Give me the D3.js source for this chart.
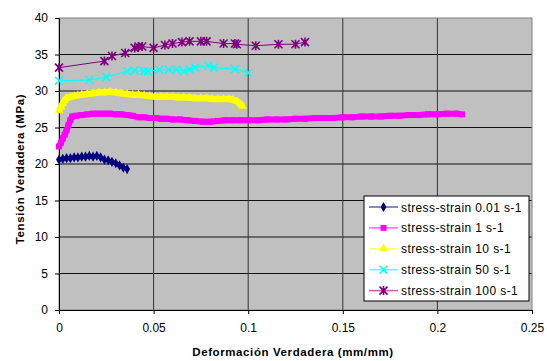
<!DOCTYPE html>
<html>
<head>
<meta charset="utf-8">
<script src="https://cdn.jsdelivr.net/npm/d3@7"></script>
<style>
  body { margin: 0; background: #fff; }
  svg { font-family: "Liberation Sans", Arial, sans-serif; }
</style>
</head>
<body>
<div id="chart"></div>
<script>
// data
const xTicks = [0, 0.05, 0.1, 0.15, 0.2, 0.25];
const yTicks = [0, 5, 10, 15, 20, 25, 30, 35, 40];

const strain001 = [0, 0.002, 0.004, 0.006, 0.008, 0.010, 0.012, 0.014, 0.016, 0.018, 0.020, 0.022, 0.024, 0.026, 0.028, 0.030, 0.032, 0.034, 0.036];
const stress001 = [20.6, 20.7, 20.8, 20.8, 20.9, 20.9, 21.0, 21.0, 21.1, 21.0, 21.1, 20.9, 20.6, 20.5, 20.3, 20.1, 19.8, 19.5, 19.3];

const strain1 = [0, 0.001, 0.002, 0.003, 0.004, 0.005, 0.006, 0.007, 0.009, 0.012, 0.015, 0.018, 0.021, 0.024, 0.027, 0.030, 0.033, 0.036, 0.039, 0.042, 0.045, 0.048, 0.051, 0.054, 0.057, 0.060, 0.064, 0.068, 0.072, 0.076, 0.080, 0.084, 0.088, 0.092, 0.096, 0.100, 0.105, 0.110, 0.115, 0.120, 0.125, 0.130, 0.135, 0.140, 0.145, 0.150, 0.155, 0.160, 0.165, 0.170, 0.175, 0.180, 0.185, 0.190, 0.195, 0.200, 0.205, 0.210, 0.213];
const stress1 = [22.4, 22.9, 23.5, 24.0, 24.6, 25.3, 26.0, 26.5, 26.6, 26.7, 26.8, 26.9, 26.9, 26.9, 26.9, 26.8, 26.8, 26.7, 26.6, 26.4, 26.4, 26.3, 26.3, 26.2, 26.2, 26.1, 26.1, 26.0, 25.9, 25.8, 25.8, 25.9, 26.0, 26.0, 26.0, 26.0, 26.0, 26.1, 26.1, 26.1, 26.2, 26.2, 26.3, 26.3, 26.3, 26.4, 26.4, 26.5, 26.5, 26.5, 26.6, 26.6, 26.7, 26.7, 26.8, 26.8, 26.9, 26.9, 26.8];

const strain10 = [0, 0.001, 0.002, 0.003, 0.004, 0.006, 0.008, 0.010, 0.012, 0.015, 0.018, 0.021, 0.024, 0.027, 0.030, 0.033, 0.036, 0.039, 0.042, 0.045, 0.048, 0.051, 0.054, 0.057, 0.060, 0.063, 0.066, 0.069, 0.072, 0.075, 0.078, 0.081, 0.084, 0.087, 0.090, 0.092, 0.094, 0.096, 0.097];
const stress10 = [27.3, 27.8, 28.3, 28.7, 29.0, 29.2, 29.3, 29.4, 29.5, 29.6, 29.7, 29.8, 29.8, 29.9, 29.8, 29.7, 29.6, 29.5, 29.5, 29.4, 29.3, 29.2, 29.2, 29.2, 29.2, 29.1, 29.1, 29.1, 29.0, 29.0, 29.0, 28.9, 28.9, 28.9, 28.9, 28.8, 28.6, 28.2, 27.9];

const strain50 = [0, 0.016, 0.025, 0.036, 0.040, 0.045, 0.047, 0.053, 0.058, 0.062, 0.066, 0.069, 0.072, 0.079, 0.082, 0.093, 0.100];
const stress50 = [31.4, 31.5, 31.9, 32.7, 32.8, 32.7, 32.7, 32.9, 32.9, 32.9, 32.7, 32.9, 33.2, 33.5, 33.2, 33.0, 32.5];

const strain100 = [0, 0.024, 0.028, 0.035, 0.040, 0.042, 0.044, 0.050, 0.056, 0.060, 0.065, 0.069, 0.075, 0.078, 0.087, 0.093, 0.094, 0.104, 0.116, 0.125, 0.130];
const stress100 = [33.2, 34.1, 34.8, 35.2, 35.9, 36.1, 36.1, 35.9, 36.3, 36.5, 36.7, 36.8, 36.8, 36.8, 36.5, 36.5, 36.4, 36.2, 36.4, 36.4, 36.7];

const names = ['stress-strain 0.01 s-1', 'stress-strain 1 s-1', 'stress-strain 10 s-1', 'stress-strain 50 s-1', 'stress-strain 100 s-1'];

const series = [
  { name: names[0], xs: strain001, ys: stress001, color: '#000080', marker: 'diamond', band: 4 },
  { name: names[1], xs: strain1, ys: stress1, color: '#ff00ff', marker: 'square', band: 6 },
  { name: names[2], xs: strain10, ys: stress10, color: '#ffff00', marker: 'triangle', band: 6.5 },
  { name: names[3], xs: strain50, ys: stress50, color: '#00ffff', marker: 'x', band: 1 },
  { name: names[4], xs: strain100, ys: stress100, color: '#800080', marker: 'star', band: 1 }
];

let width = 547, height = 361;
let mLeft = 59, mRight = 532, mTop = 18, mBottom = 310;

let svg = d3.select('#chart').append('svg')
  .attr('width', width)
  .attr('height', height);

let x = d3.scaleLinear().domain([0, 0.25]).range([mLeft, mRight]);
let y = d3.scaleLinear().domain([0, 40]).range([mBottom, mTop]);

// plot area
svg.append('rect')
  .attr('x', mLeft).attr('y', mTop)
  .attr('width', mRight - mLeft).attr('height', mBottom - mTop)
  .attr('fill', '#c0c0c0');

// grid
svg.append('g').selectAll('line')
  .data(yTicks.slice(1, -1))
  .enter().append('line')
  .attr('x1', mLeft).attr('x2', mRight)
  .attr('y1', d => y(d)).attr('y2', d => y(d))
  .attr('stroke', '#111').attr('stroke-width', 1);

svg.append('g').selectAll('line')
  .data(xTicks.slice(1, -1))
  .enter().append('line')
  .attr('y1', mTop).attr('y2', mBottom)
  .attr('x1', d => x(d)).attr('x2', d => x(d))
  .attr('stroke', '#333').attr('stroke-width', 1);

svg.append('rect')
  .attr('x', mLeft).attr('y', mTop)
  .attr('width', mRight - mLeft).attr('height', mBottom - mTop)
  .attr('fill', 'none').attr('stroke', '#808080');

// axes
let xAxis = d3.axisBottom(x).tickValues(xTicks).tickSize(4).tickPadding(9)
  .tickFormat(d => d === 0 ? '0' : String(+d.toFixed(2)));
let gx = svg.append('g').attr('transform', 'translate(0,' + mBottom + ')').call(xAxis);
gx.select('.domain').attr('stroke', '#000');
gx.selectAll('.tick line').attr('stroke', '#000');
gx.selectAll('text').attr('font-size', 12).attr('fill', '#000').attr('font-family', 'Liberation Sans, Arial');

let yAxis = d3.axisLeft(y).tickValues(yTicks).tickSize(4).tickPadding(7);
let gy = svg.append('g').attr('transform', 'translate(' + mLeft + ',0)').call(yAxis);
gy.select('.domain').attr('stroke', '#000');
gy.selectAll('.tick line').attr('stroke', '#000');
gy.selectAll('text').attr('font-size', 12).attr('fill', '#000').attr('font-family', 'Liberation Sans, Arial');

// titles
svg.append('text')
  .attr('x', 293).attr('y', 356)
  .attr('text-anchor', 'middle')
  .attr('font-size', 11.5).attr('font-weight', 'bold')
  .attr('letter-spacing', 0.6)
  .text('Deformación Verdadera (mm/mm)');

svg.append('text')
  .attr('transform', 'translate(24,169) rotate(-90)')
  .attr('text-anchor', 'middle')
  .attr('font-size', 11.5).attr('font-weight', 'bold')
  .attr('letter-spacing', 0.6)
  .text('Tensión Verdadera (MPa)');

// markers
function drawMarker(g, type, cx, cy, color) {
  if (type === 'diamond') {
    g.append('path').attr('d', d3.symbol(d3.symbolDiamond, 30)())
      .attr('transform', 'translate(' + cx + ',' + cy + ')').attr('fill', color);
  } else if (type === 'square') {
    g.append('rect').attr('x', cx - 3).attr('y', cy - 3).attr('width', 6).attr('height', 6).attr('fill', color);
  } else if (type === 'triangle') {
    g.append('path').attr('d', d3.symbol(d3.symbolTriangle, 32)())
      .attr('transform', 'translate(' + cx + ',' + cy + ')').attr('fill', color);
  } else if (type === 'x') {
    g.append('path')
      .attr('d', 'M' + (cx - 4) + ',' + (cy - 4) + 'L' + (cx + 4) + ',' + (cy + 4) + 'M' + (cx - 4) + ',' + (cy + 4) + 'L' + (cx + 4) + ',' + (cy - 4))
      .attr('stroke', color).attr('stroke-width', 1.5);
  } else if (type === 'star') {
    g.append('path')
      .attr('d', 'M' + (cx - 4) + ',' + (cy - 4) + 'L' + (cx + 4) + ',' + (cy + 4) + 'M' + (cx - 4) + ',' + (cy + 4) + 'L' + (cx + 4) + ',' + (cy - 4) +
        'M' + cx + ',' + (cy - 4.5) + 'L' + cx + ',' + (cy + 4.5))
      .attr('stroke', color).attr('stroke-width', 1.6).attr('fill', 'none');
    g.append('rect').attr('x', cx - 2).attr('y', cy - 2).attr('width', 4).attr('height', 4)
      .attr('fill', color).attr('opacity', 0.6);
  }
}

let line = d3.line().x(d => x(d[0])).y(d => y(d[1]));

series.forEach(function(s) {
  let pts = s.xs.map((v, i) => [v, s.ys[i]]);
  let g = svg.append('g');
  g.append('path')
    .attr('d', line(pts))
    .attr('fill', 'none')
    .attr('stroke', s.color)
    .attr('stroke-width', s.band)
    .attr('stroke-linejoin', 'round');
  pts.forEach(p => drawMarker(g, s.marker, x(p[0]), y(p[1]), s.color));
});

// legend
let lg = svg.append('g');
lg.append('rect')
  .attr('x', 364).attr('y', 196).attr('width', 165).attr('height', 105)
  .attr('fill', '#fff').attr('stroke', '#000');

series.forEach(function(s, i) {
  let ly = 207 + i * 20.9;
  lg.append('line')
    .attr('x1', 369).attr('x2', 398).attr('y1', ly).attr('y2', ly)
    .attr('stroke', s.color).attr('stroke-width', 1.5).attr('opacity', 0.6);
  drawMarker(lg, s.marker, 383.5, ly, s.color);
  lg.append('text')
    .attr('x', 401).attr('y', ly + 4.5)
    .attr('font-size', 12)
    .attr('letter-spacing', 0.4)
    .text(s.name);
});
</script>
</body>
</html>
